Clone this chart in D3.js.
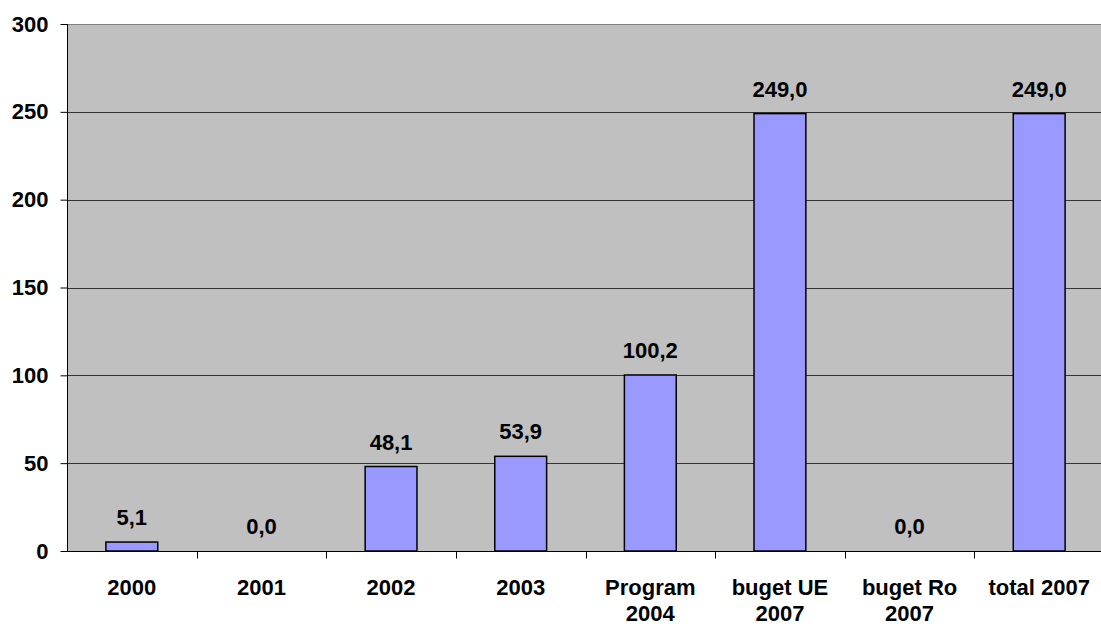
<!DOCTYPE html>
<html>
<head>
<meta charset="utf-8">
<script src="https://cdn.jsdelivr.net/npm/d3@7"></script>
<style>
  body { margin: 0; background: #fff; }
  svg { display: block; }
  text { font-family: "Liberation Sans", Arial, sans-serif; font-weight: bold; fill: #000; }
</style>
</head>
<body>
<svg id="chart" width="1101" height="626"></svg>
<script>
// categories, each split into label lines
var categories = ['2000', '2001', '2002', '2003', 'Program 2004', 'buget UE 2007', 'buget Ro 2007', 'total 2007'];
var labelLines = [['2000'], ['2001'], ['2002'], ['2003'], ['Program', '2004'], ['buget UE', '2007'], ['buget Ro', '2007'], ['total 2007']];
var values = [5.1, 0.0, 48.1, 53.9, 100.2, 249.0, 0.0, 249.0];
var yTicks = [0, 50, 100, 150, 200, 250, 300];

var svg = d3.select('#chart');
var plotL = 67, plotT = 24, plotB = 551, plotR = 1104;

var x = d3.scaleBand()
    .domain(categories)
    .range([plotL, plotR])
    .paddingInner(0)
    .paddingOuter(0);

var y = d3.scaleLinear()
    .domain([0, 300])
    .range([plotB, plotT]);

var fmt = function (v) { return v.toFixed(1).replace('.', ','); };

// plot background
svg.append('rect')
    .attr('x', plotL).attr('y', plotT)
    .attr('width', plotR - plotL).attr('height', plotB - plotT)
    .attr('fill', '#c0c0c0');

// gridlines
svg.append('g')
    .selectAll('line')
    .data(yTicks.slice(1))
    .enter().append('line')
    .attr('x1', plotL).attr('x2', plotR)
    .attr('y1', function (d) { return Math.round(y(d)) + 0.5; })
    .attr('y2', function (d) { return Math.round(y(d)) + 0.5; })
    .attr('stroke', function (d) { return d === 300 ? '#808080' : '#333'; })
    .attr('stroke-width', 1);

// bars
var barW = x.bandwidth() * 0.4;
svg.append('g')
    .selectAll('rect')
    .data(values)
    .enter().append('rect')
    .attr('x', function (d, i) { return x(categories[i]) + (x.bandwidth() - barW) / 2; })
    .attr('y', function (d) { return y(d); })
    .attr('width', barW)
    .attr('height', function (d) { return plotB - y(d); })
    .attr('fill', '#9999ff')
    .attr('stroke', '#000')
    .attr('stroke-width', 1.5);

// value labels
svg.append('g')
    .selectAll('text')
    .data(values)
    .enter().append('text')
    .attr('x', function (d, i) { return x(categories[i]) + x.bandwidth() / 2; })
    .attr('y', function (d) { return y(d) - 17; })
    .attr('text-anchor', 'middle')
    .style('font-size', '22px')
    .text(fmt);

// y axis
var yAxis = svg.append('g')
    .attr('transform', 'translate(' + (plotL + 0.5) + ',0)')
    .call(d3.axisLeft(y).tickValues(yTicks).tickSize(7).tickPadding(12).tickFormat(d3.format('d')));
yAxis.select('.domain').attr('stroke', '#000').attr('d', 'M0,' + plotT + 'V' + plotB);
yAxis.selectAll('.tick line').attr('stroke', '#000');
yAxis.selectAll('.tick text')
    .style('font-size', '22px')
    .style('font-family', '"Liberation Sans", Arial, sans-serif')
    .style('font-weight', 'bold');

// x axis
var xAxis = svg.append('g')
    .attr('transform', 'translate(0,' + (plotB + 0.5) + ')');
xAxis.append('line')
    .attr('x1', plotL).attr('x2', plotR)
    .attr('stroke', '#000');
xAxis.selectAll('line.tick')
    .data(categories.slice(1))
    .enter().append('line')
    .attr('class', 'tick')
    .attr('x1', function (d) { return Math.round(x(d)) + 0.5; })
    .attr('x2', function (d) { return Math.round(x(d)) + 0.5; })
    .attr('y1', 0).attr('y2', 7)
    .attr('stroke', '#000');

var xl = xAxis.selectAll('text')
    .data(labelLines)
    .enter().append('text')
    .attr('text-anchor', 'middle')
    .style('font-size', '22px')
    .attr('transform', function (d, i) { return 'translate(' + (x(categories[i]) + x.bandwidth() / 2) + ',43)'; });
xl.selectAll('tspan')
    .data(function (d) { return d; })
    .enter().append('tspan')
    .attr('x', 0)
    .attr('dy', function (d, i) { return i === 0 ? 0 : 26; })
    .text(function (d) { return d; });
</script>
</body>
</html>
